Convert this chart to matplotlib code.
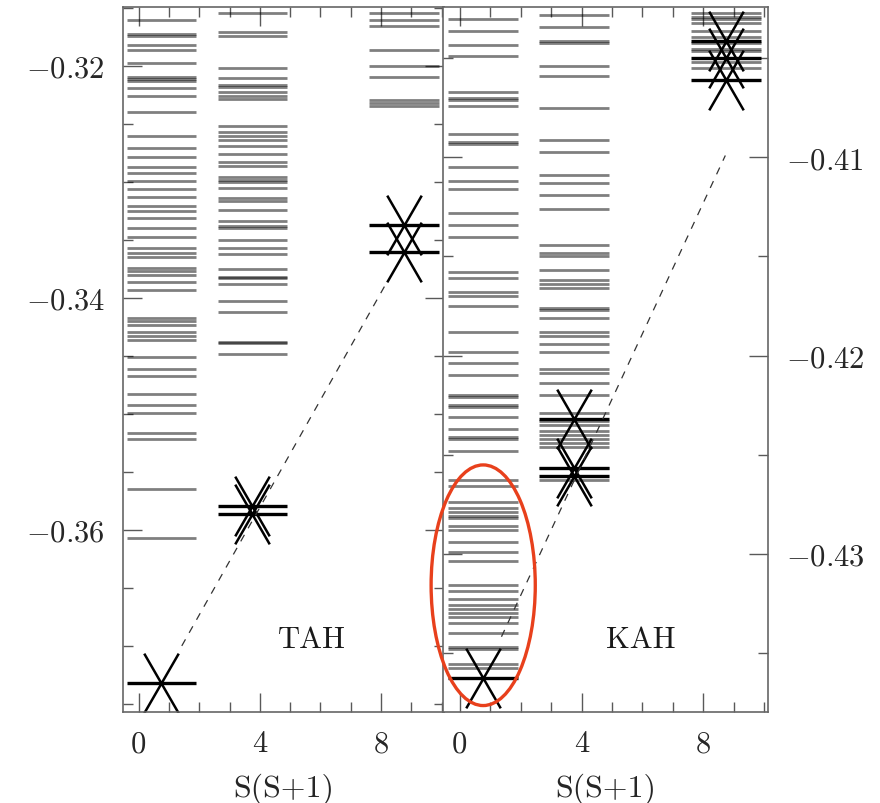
import matplotlib.pyplot as plt
from matplotlib.path import Path
from matplotlib.patches import Ellipse
from matplotlib.ticker import FixedLocator, MultipleLocator

plt.rcParams['font.family'] = 'serif'
plt.rcParams['font.serif'] = ['cmr10', 'DejaVu Serif']
plt.rcParams['mathtext.fontset'] = 'cm'
plt.rcParams['axes.unicode_minus'] = False

# S(S+1) for S = 1/2, 3/2, 5/2
spin_x = [0.75, 3.75, 8.75]

# TAH levels, one list per spin sector
tah_s12 = [-0.3160, -0.3172, -0.3174, -0.3182, -0.3186, -0.3197, -0.3209, -0.3211,
           -0.3213, -0.3219, -0.3226, -0.3240, -0.3260, -0.3271, -0.3278, -0.3287,
           -0.3292, -0.3299, -0.3306, -0.3313, -0.3321, -0.3325, -0.3331, -0.3340,
           -0.3347, -0.3357, -0.3361, -0.3365, -0.3374, -0.3377, -0.3380, -0.3386,
           -0.3393, -0.3417, -0.3420, -0.3423, -0.3429, -0.3433, -0.3436, -0.3451,
           -0.3461, -0.3467, -0.3483, -0.3492, -0.3499, -0.3516, -0.3522, -0.3565,
           -0.3607]
tah_s32 = [-0.3154, -0.3171, -0.3174, -0.3202, -0.3210, -0.3216, -0.3218, -0.3222,
           -0.3226, -0.3228, -0.3252, -0.3257, -0.3260, -0.3264, -0.3269, -0.3276,
           -0.3283, -0.3286, -0.3296, -0.3298, -0.3300, -0.3305, -0.3314, -0.3316,
           -0.3324, -0.3334, -0.3338, -0.3340, -0.3350, -0.3357, -0.3362, -0.3375,
           -0.3382, -0.3383, -0.3388, -0.3403, -0.3412, -0.3438, -0.3439, -0.3448]
tah_s52 = [-0.3154, -0.3160, -0.3165, -0.3186, -0.3200, -0.3209, -0.3229, -0.3232,
           -0.3234]
tah_star_x = [0.75, 3.75, 3.75, 8.75, 8.75]
tah_star_y = [-0.3732, -0.3579, -0.3586, -0.3337, -0.3360]
tah_fit_x = [1.42, 8.2]
tah_fit_y = [-0.3700, -0.3386]

# KAH levels
kah_s12 = [-0.4030, -0.4036, -0.4043, -0.4049, -0.4067, -0.4070, -0.4071, -0.4074,
           -0.4088, -0.4092, -0.4093, -0.4105, -0.4112, -0.4116, -0.4128, -0.4134,
           -0.4140, -0.4158, -0.4161, -0.4168, -0.4170, -0.4175, -0.4188, -0.4198,
           -0.4204, -0.4210, -0.4220, -0.4221, -0.4225, -0.4226, -0.4231, -0.4237,
           -0.4241, -0.4242, -0.4248, -0.4263, -0.4266, -0.4274, -0.4277, -0.4279,
           -0.4281, -0.4282, -0.4286, -0.4288, -0.4294, -0.4299, -0.4304, -0.4316,
           -0.4319, -0.4323, -0.4326, -0.4328, -0.4330, -0.4332, -0.4335, -0.4340,
           -0.4347, -0.4348, -0.4356, -0.4358]
kah_s32 = [-0.4028, -0.4034, -0.4041, -0.4042, -0.4054, -0.4059, -0.4075, -0.4091,
           -0.4097, -0.4109, -0.4113, -0.4119, -0.4126, -0.4144, -0.4148, -0.4150,
           -0.4157, -0.4162, -0.4164, -0.4166, -0.4176, -0.4177, -0.4181, -0.4188,
           -0.4190, -0.4194, -0.4198, -0.4207, -0.4209, -0.4214, -0.4220, -0.4229,
           -0.4233, -0.4235, -0.4238, -0.4240, -0.4242, -0.4244, -0.4246, -0.4257,
           -0.4263]
kah_s52 = [-0.4027, -0.4029, -0.4030, -0.4032, -0.4036, -0.4039, -0.4042, -0.4045,
           -0.4046, -0.4052, -0.4055]
kah_star_x = [0.75, 3.75, 3.75, 3.75, 8.75, 8.75, 8.75]
kah_star_y = [-0.4363, -0.4232, -0.4257, -0.4261, -0.4041, -0.4050, -0.4061]
kah_fit_x = [1.37, 8.72]
kah_fit_y = [-0.4342, -0.4099]

x_ticks = [0, 4, 8]
x_tick_labels = ['0', '4', '8']
tah_y_ticks = [-0.36, -0.34, -0.32]
tah_y_labels = ['$-0.36$', '$-0.34$', '$-0.32$']
kah_y_ticks = [-0.43, -0.42, -0.41]
kah_y_labels = ['$-0.43$', '$-0.42$', '$-0.41$']

HALF = 1.15
# asterisk-like marker: an X with steep arms (horizontal bar is the level line)
xmark = Path([(-0.5, -0.866), (0.5, 0.866), (-0.5, 0.866), (0.5, -0.866)],
             [Path.MOVETO, Path.LINETO, Path.MOVETO, Path.LINETO])


def draw_panel(ax, columns, star_x, star_y, fit_x, fit_y, name, name_pos,
               xlim, ylim, yticks, ylabels):
    for sx, levels in zip(spin_x, columns):
        ax.hlines(levels, sx - HALF, sx + HALF, colors='k', alpha=0.5, lw=2.0)
    for sx, sy in zip(star_x, star_y):
        ax.hlines(sy, sx - HALF, sx + HALF, colors='k', lw=2.4)
    ax.plot(star_x, star_y, ls='none', marker=xmark, markersize=43,
            mec='k', mew=1.8, mfc='none')
    ax.plot(fit_x, fit_y, color='0.2', lw=0.9, ls=(0, (6, 6)))
    ax.text(name_pos[0], name_pos[1], name, ha='center', va='baseline', fontsize=22,
            color='0.1')
    ax.set_xlim(*xlim)
    ax.set_ylim(*ylim)
    ax.xaxis.set_major_locator(FixedLocator(x_ticks))
    ax.set_xticklabels(x_tick_labels)
    ax.xaxis.set_minor_locator(MultipleLocator(1))
    ax.set_yticks(yticks)
    ax.set_yticklabels(ylabels)
    ax.yaxis.set_minor_locator(MultipleLocator(0.005))
    ax.tick_params(which='both', direction='in', top=True, right=True,
                   colors='0.35', labelcolor='0.15', labelsize=22, pad=13)
    ax.tick_params(which='major', length=14, width=1.0)
    ax.tick_params(which='minor', length=7, width=1.0)
    for sp in ax.spines.values():
        sp.set_color('0.4')
        sp.set_linewidth(1.2)
    ax.set_xlabel('S(S+1)', fontsize=23, color='0.15', labelpad=11)


fig = plt.figure(figsize=(8.8, 8.04), dpi=100)
ax1 = fig.add_axes([0.1398, 0.1132, 0.3648, 0.8769])
ax2 = fig.add_axes([0.5034, 0.1132, 0.3693, 0.8769])

draw_panel(ax1, [tah_s12, tah_s32, tah_s52], tah_star_x, tah_star_y,
           tah_fit_x, tah_fit_y, 'TAH', (5.73, -0.3701),
           (-0.52, 10.08), (-0.3757, -0.3149), tah_y_ticks, tah_y_labels)
draw_panel(ax2, [kah_s12, kah_s32, kah_s52], kah_star_x, kah_star_y,
           kah_fit_x, kah_fit_y, 'KAH', (5.94, -0.4347),
           (-0.55, 10.12), (-0.4380, -0.4024), kah_y_ticks, kah_y_labels)
ax2.tick_params(axis='y', labelleft=False, labelright=True)

# highlighted S=1/2 region of KAH
ax2.add_patch(Ellipse((0.77, -0.4316), 3.42, 0.01215, fill=False,
                      edgecolor='#e8401c', lw=2.4, clip_on=False, zorder=10))

fig.savefig('out.png', dpi=100)
